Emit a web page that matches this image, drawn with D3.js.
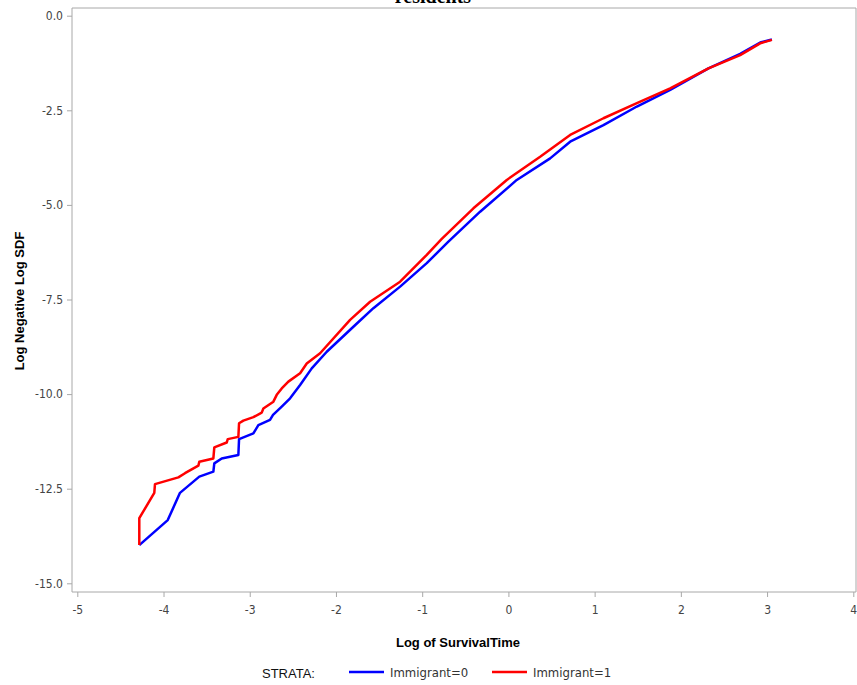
<!DOCTYPE html>
<html lang="en">
<head>
  <meta charset="UTF-8">
  <title>Log Negative Log SDF by Immigrant</title>
  <style>
    body { margin: 0; background: #fff; }
    svg { display: block; }
    .tick text { font-family: "Liberation Sans Narrow", "DejaVu Sans Condensed", sans-serif; font-size: 12px; fill: #444; }
  </style>
</head>
<body>
  <svg id="chart" width="857" height="685"></svg>
  <script src="https://d3js.org/d3.v7.min.js"></script>
  <script>
    // strata curves (log time, log(-log S))
    const blueX = [-4.281, -3.951, -3.809, -3.585, -3.422, -3.411, -3.325, -3.132, -3.124, -2.958, -2.900, -2.765, -2.730, -2.629, -2.532, -2.416, -2.281, -2.107, -1.798, -1.566, -1.256, -0.947, -0.696, -0.328, 0.097, 0.484, 0.716, 1.102, 1.490, 1.876, 2.320, 2.688, 2.920, 3.056];
    const blueY = [-13.99, -13.33, -12.61, -12.18, -12.05, -11.83, -11.70, -11.61, -11.19, -11.04, -10.82, -10.68, -10.55, -10.33, -10.11, -9.76, -9.32, -8.88, -8.22, -7.73, -7.16, -6.54, -5.97, -5.18, -4.34, -3.77, -3.33, -2.89, -2.40, -1.96, -1.39, -1.01, -0.71, -0.63];
    const redX = [-4.281, -4.281, -4.107, -4.099, -3.828, -3.751, -3.596, -3.585, -3.422, -3.411, -3.267, -3.255, -3.132, -3.124, -3.074, -2.958, -2.861, -2.842, -2.726, -2.687, -2.629, -2.552, -2.416, -2.339, -2.184, -1.836, -1.604, -1.256, -0.947, -0.773, -0.406, -0.019, 0.368, 0.716, 1.102, 1.490, 1.876, 2.320, 2.688, 2.920, 3.056];
    const redY = [-13.99, -13.28, -12.61, -12.38, -12.20, -12.09, -11.89, -11.79, -11.70, -11.41, -11.28, -11.19, -11.13, -10.77, -10.70, -10.61, -10.49, -10.38, -10.20, -10.02, -9.85, -9.67, -9.45, -9.19, -8.92, -8.04, -7.56, -7.03, -6.32, -5.90, -5.09, -4.34, -3.73, -3.15, -2.71, -2.31, -1.92, -1.39, -1.04, -0.73, -0.64];
    const xTicks = [-5, -4, -3, -2, -1, 0, 1, 2, 3, 4];
    const yTicks = [0, -2.5, -5, -7.5, -10, -12.5, -15];
    const strata = ["Immigrant=0", "Immigrant=1"];
    const colors = ["#0000ff", "#ff0000"];

    const svg = d3.select('#chart');
    const pLeft = 72, pTop = 8, pRight = 856, pBottom = 592;
    const x = d3.scaleLinear().domain([-5, 4]).range([77.3, 853.3]);
    const y = d3.scaleLinear().domain([-15, 0]).range([583.3, 15.7]);
    const narrow = '"Liberation Sans Narrow", "DejaVu Sans Condensed", sans-serif';

    // title, mostly clipped off the top as in the original
    svg.append('text')
      .attr('x', 433).attr('y', 3)
      .attr('text-anchor', 'middle')
      .attr('font-family', '"Liberation Serif", serif')
      .attr('font-weight', 'bold')
      .attr('font-size', 20)
      .text('residents');

    // frame
    svg.append('path')
      .attr('d', `M${pLeft},${pTop}H${pRight}V${pBottom}H${pLeft}Z`)
      .attr('fill', 'none')
      .attr('stroke', '#a8a8a8')
      .attr('stroke-width', 1);

    const xAxis = svg.append('g')
      .attr('transform', `translate(0,${pBottom})`)
      .call(d3.axisBottom(x).tickValues(xTicks).tickSize(5).tickPadding(8));
    const yAxis = svg.append('g')
      .attr('transform', `translate(${pLeft},0)`)
      .call(d3.axisLeft(y).tickValues(yTicks).tickSize(5).tickPadding(4));
    [xAxis, yAxis].forEach(g => {
      g.select('.domain').remove();
      g.selectAll('.tick line').attr('stroke', '#a8a8a8');
    });
    yAxis.selectAll('.tick text').text(d => d.toFixed(1));
    xAxis.selectAll('.tick text').text(d => String(d));

    // axis labels
    svg.append('text')
      .attr('transform', 'translate(24,301) rotate(-90)')
      .attr('text-anchor', 'middle')
      .attr('font-family', 'Liberation Sans, Arial, sans-serif')
      .attr('font-weight', 'bold')
      .attr('font-size', 13)
      .text('Log Negative Log SDF');
    svg.append('text')
      .attr('x', 458).attr('y', 647)
      .attr('text-anchor', 'middle')
      .attr('font-family', 'Liberation Sans, Arial, sans-serif')
      .attr('font-weight', 'bold')
      .attr('font-size', 13)
      .text('Log of SurvivalTime');

    // curves
    const line = d3.line().x(d => x(d[0])).y(d => y(d[1]));
    const series = [d3.zip(blueX, blueY), d3.zip(redX, redY)];
    svg.append('g')
      .selectAll('path')
      .data(series)
      .enter().append('path')
      .attr('d', line)
      .attr('fill', 'none')
      .attr('stroke', (d, i) => colors[i])
      .attr('stroke-width', 2.5)
      .attr('stroke-linejoin', 'round');

    // legend
    svg.append('text')
      .attr('x', 262).attr('y', 678)
      .attr('font-family', 'Liberation Sans, Arial, sans-serif')
      .attr('font-size', 13)
      .attr('fill', '#111')
      .text('STRATA:');
    const legX = [349, 492];
    strata.forEach((s, i) => {
      svg.append('line')
        .attr('x1', legX[i]).attr('x2', legX[i] + 35)
        .attr('y1', 672).attr('y2', 672)
        .attr('stroke', colors[i])
        .attr('stroke-width', 2.5);
      svg.append('text')
        .attr('x', legX[i] + 41).attr('y', 677)
        .attr('font-family', narrow)
        .attr('font-size', 13)
        .attr('fill', '#333')
        .text(s);
    });
  </script>
</body>
</html>
